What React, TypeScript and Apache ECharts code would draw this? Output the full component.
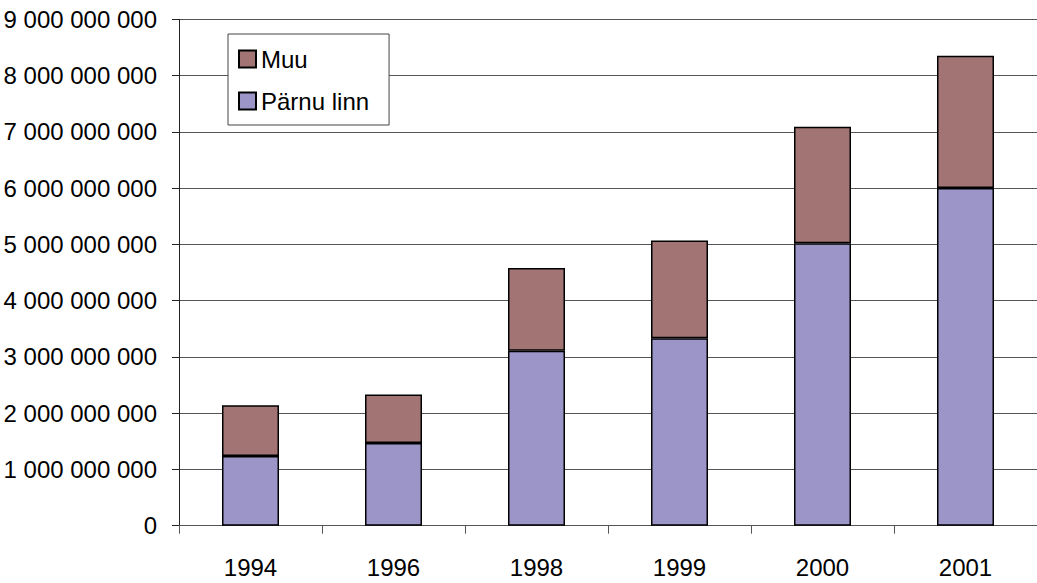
import React, { useEffect, useRef } from "react";
import * as echarts from "echarts";

const years = ["1994", "1996", "1998", "1999", "2000", "2001"];
const parnuLinn = [1.24e9, 1.47e9, 3.11e9, 3.33e9, 5.02e9, 6.0e9];
const muu = [0.9e9, 0.86e9, 1.47e9, 1.74e9, 2.07e9, 2.35e9];
const yTicks = { min: 0, max: 9e9, interval: 1e9 };

const FONT = "'Liberation Sans', Arial, sans-serif";

function fmt(v: number): string {
  return String(Math.round(v)).replace(/\B(?=(\d{3})+(?!\d))/g, " ");
}

export default function App() {
  const ref = useRef<HTMLDivElement>(null);
  useEffect(() => {
    if (!ref.current) return;
    const chart = echarts.init(ref.current, undefined, { renderer: "svg" });
    chart.setOption({
      animation: false,
      backgroundColor: "#ffffff",
      textStyle: { fontFamily: FONT },
      grid: { left: 179, top: 19.3, width: 862, height: 506.4, containLabel: false },
      legend: {
        orient: "vertical",
        left: 228,
        top: 34,
        padding: [13, 20, 12, 10],
        itemGap: 18,
        itemWidth: 17,
        itemHeight: 17,
        icon: "rect",
        backgroundColor: "#ffffff",
        borderColor: "#444",
        borderWidth: 1,
        borderRadius: 0,
        data: ["Muu", "Pärnu linn"],
        textStyle: { fontFamily: FONT, fontSize: 24, color: "#000" },
      },
      xAxis: {
        type: "category",
        data: years,
        axisLine: { lineStyle: { color: "#555", width: 1 } },
        axisTick: { show: true, length: 8, lineStyle: { color: "#555" } },
        axisLabel: { fontFamily: FONT, fontSize: 24, color: "#000", margin: 30 },
      },
      yAxis: {
        type: "value",
        min: yTicks.min,
        max: yTicks.max,
        interval: yTicks.interval,
        axisLine: { show: true, lineStyle: { color: "#222", width: 1 } },
        axisTick: { show: true, length: 7, lineStyle: { color: "#222" } },
        axisLabel: {
          fontFamily: FONT,
          fontSize: 24,
          color: "#000",
          margin: 22,
          formatter: (v: number) => fmt(v),
        },
        splitLine: { show: true, lineStyle: { color: "#555", width: 1 } },
      },
      series: [
        {
          name: "Pärnu linn",
          type: "bar",
          stack: "total",
          barWidth: 57,
          data: parnuLinn,
          itemStyle: { color: "#9c96c8", borderColor: "#000", borderWidth: 1.5 },
        },
        {
          name: "Muu",
          type: "bar",
          stack: "total",
          barWidth: 57,
          data: muu,
          itemStyle: { color: "#a37474", borderColor: "#000", borderWidth: 1.5 },
        },
      ],
    });
    return () => chart.dispose();
  }, []);
  return (
    <div
      ref={ref}
      style={{ position: "absolute", left: 0, top: 0, width: 1037, height: 583 }}
    />
  );
}
